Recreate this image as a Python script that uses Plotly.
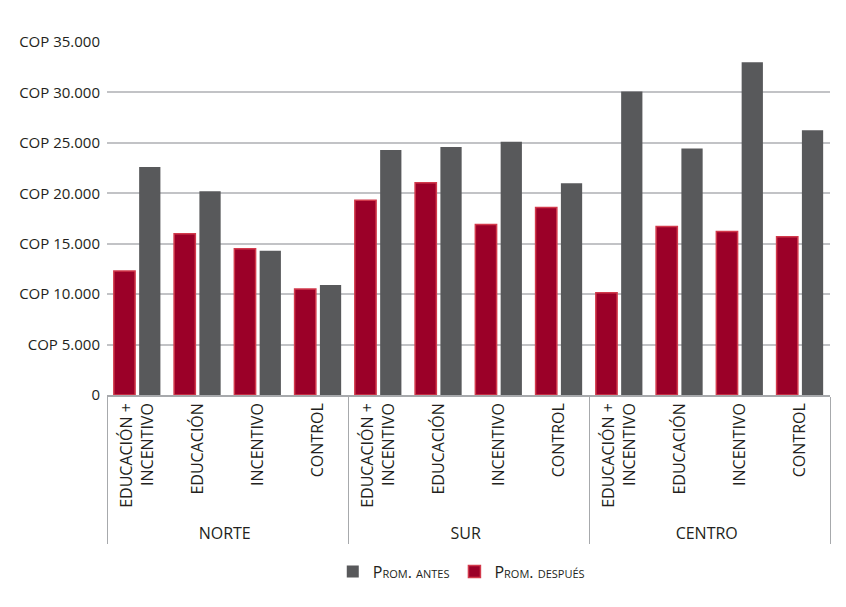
import plotly.graph_objects as go

regions = ["NORTE"] * 4 + ["SUR"] * 4 + ["CENTRO"] * 4
groups = ["EDUCACIÓN +<br>INCENTIVO", "EDUCACIÓN", "INCENTIVO", "CONTROL"] * 3

prom_despues = [12300, 16000, 14500, 10500,
                19300, 21050, 16900, 18600,
                10150, 16700, 16200, 15700]
prom_antes = [22600, 20200, 14300, 10900,
              24300, 24600, 25100, 21000,
              30100, 24450, 33000, 26250]

tick_vals = [0, 5000, 10000, 15000, 20000, 25000, 30000, 35000]
tick_text = ["0", "COP 5.000", "COP 10.000", "COP 15.000", "COP 20.000",
             "COP 25.000", "COP 30.000", "COP 35.000"]

FONT = "Open Sans, Noto Sans, sans-serif"

fig = go.Figure()
fig.add_trace(go.Bar(
    x=[regions, groups], y=prom_despues, name="Prom. después",
    marker=dict(color="#9b0028", line=dict(color="#d23a4c", width=1.5)),
    legendrank=2,
))
fig.add_trace(go.Bar(
    x=[regions, groups], y=prom_antes, name="Prom. antes",
    marker=dict(color="#58595b", line=dict(width=0)),
    legendrank=1,
))

fig.update_layout(
    width=846, height=607,
    margin=dict(l=107, r=16, t=42, b=212, autoexpand=False),
    paper_bgcolor="white", plot_bgcolor="white",
    barmode="group", bargap=0.16, bargroupgap=0.16,
    font=dict(family=FONT, color="#231f20", size=15),
    showlegend=True,
    legend=dict(orientation="h", x=0.49, xanchor="center", y=-0.50, yanchor="middle",
                font=dict(family=FONT, size=16, color="#231f20", variant="small-caps"),
                itemwidth=30, traceorder="normal"),
)
fig.update_xaxes(
    type="multicategory", automargin=False,
    showline=True, linecolor="#a7a9ac", linewidth=1.5,
    showdividers=True, dividercolor="#a7a9ac", dividerwidth=1,
    tickangle=-90, tickfont=dict(family=FONT, size=16, color="#231f20"),
    ticks="", showgrid=False,
)
fig.update_yaxes(
    range=[0, 35000], tickvals=tick_vals, ticktext=tick_text,
    showgrid=True, gridcolor="#c2c3c6", gridwidth=1.5,
    zeroline=False, showline=False, ticks="", ticklen=0,
    ticklabelstandoff=6,
    tickfont=dict(family=FONT, size=15, color="#231f20"),
    automargin=False,
)

fig.write_html("out.html", config={"displayModeBar": False},
               post_script="document.body.style.margin='0';")
